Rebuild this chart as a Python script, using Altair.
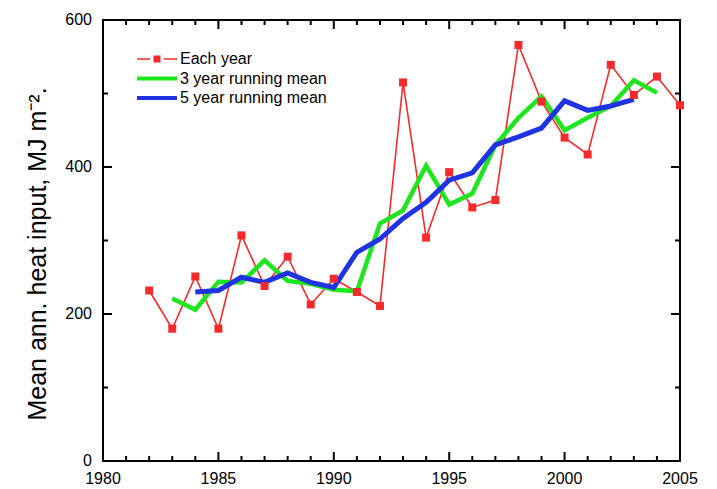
import altair as alt
import pandas as pd

# ---- data ----
years_each = list(range(1982, 2006))
each_year = [232, 180, 251, 180, 307, 238, 278, 213, 248, 230, 211, 515,
             304, 393, 345, 355, 566, 489, 440, 417, 539, 498, 523, 484]

years_3 = list(range(1983, 2005))
mean_3 = [221, 206, 244, 243, 273, 245, 241, 233, 231, 323, 341, 402,
          349, 364, 430, 467, 496, 450, 467, 483, 518, 501]

years_5 = list(range(1984, 2004))
mean_5 = [230, 232, 250, 243, 256, 243, 236, 284, 302, 330, 352, 382,
          392, 430, 441, 453, 490, 477, 483, 492]

series_names = ["Each year", "3 year running mean", "5 year running mean"]
x_labels = [1980, 1985, 1990, 1995, 2000, 2005]
x_minor = [y for y in range(1980, 2006) if y not in x_labels]
y_labels = [0, 200, 400, 600]
y_minor = [100, 300, 500]
y_title = ["Mean ann. heat input, MJ m\u207b\u00b2."]

RED, GREEN, BLUE = "#f52a2a", "#1ee61e", "#1f33e2"
FONT = "Liberation Sans"
W, H = 577, 441
MAJ, MIN = 9, 5

df_each = pd.DataFrame({"year": years_each, "value": each_year})
df_3 = pd.DataFrame({"year": years_3, "value": mean_3})
df_5 = pd.DataFrame({"year": years_5, "value": mean_5})
df_names = pd.DataFrame({"series": series_names})
df_xmaj = pd.DataFrame({"year": x_labels})
df_xmin = pd.DataFrame({"year": x_minor})
df_ymaj = pd.DataFrame({"value": y_labels})
df_ymin = pd.DataFrame({"value": y_minor})
df_title = pd.DataFrame({"t": y_title})

xscale = alt.Scale(domain=[1980, 2005], nice=False, zero=False)
yscale = alt.Scale(domain=[0, 600], nice=False)

xq = alt.X("year:Q", scale=xscale, axis=None)
yq = alt.Y("value:Q", scale=yscale, axis=None)

red_line = alt.Chart(df_each).mark_line(color=RED, strokeWidth=1.6).encode(x=xq, y=yq)
green_line = alt.Chart(df_3).mark_line(color=GREEN, strokeWidth=4.5).encode(x=xq, y=yq)
blue_line = alt.Chart(df_5).mark_line(color=BLUE, strokeWidth=5).encode(x=xq, y=yq)
red_pts = alt.Chart(df_each).mark_square(color=RED, size=64, opacity=1).encode(x=xq, y=yq)


# inward ticks: stroked symbols anchored on the frame
def tick_layer(df, path, length, **enc):
    return alt.Chart(df).mark_point(shape=path, size=(2 * length) ** 2, filled=False,
                                    stroke="black", strokeWidth=2, opacity=1,
                                    strokeCap="butt").encode(**enc)


ticks = [
    tick_layer(df_xmaj, "M0,0L0,-1", MAJ, x=xq, y=alt.value(H)),
    tick_layer(df_xmin, "M0,0L0,-1", MIN, x=xq, y=alt.value(H)),
    tick_layer(df_xmaj, "M0,0L0,1", MAJ, x=xq, y=alt.value(0)),
    tick_layer(df_xmin, "M0,0L0,1", MIN, x=xq, y=alt.value(0)),
    tick_layer(df_ymaj, "M0,0L1,0", MAJ, y=yq, x=alt.value(0)),
    tick_layer(df_ymin, "M0,0L1,0", MIN, y=yq, x=alt.value(0)),
    tick_layer(df_ymaj, "M0,0L-1,0", MAJ, y=yq, x=alt.value(W)),
    tick_layer(df_ymin, "M0,0L-1,0", MIN, y=yq, x=alt.value(W)),
]

# tick labels and axis title as text marks placed through the scales
x_text = alt.Chart(df_xmaj).mark_text(font=FONT, fontSize=16, color="black",
                                      align="center", baseline="top").encode(
    x=xq, y=alt.value(H + 10), text=alt.Text("year:Q", format="d"))
y_text = alt.Chart(df_ymaj).mark_text(font=FONT, fontSize=16, color="black",
                                      align="right", baseline="middle").encode(
    y=yq, x=alt.value(-11), text=alt.Text("value:Q", format="d"))
title_text = alt.Chart(df_title).mark_text(font=FONT, fontSize=25, color="black",
                                           angle=270, align="center",
                                           baseline="bottom").encode(
    x=alt.value(-52), y=alt.value(234), text="t:N")

# legend (native legend, custom symbol paths)
path_each = ("M-3,-0.08H-1.7V0.08H-3Z M-0.3,-0.08H1V0.08H-0.3Z "
             "M-1.35,-0.35H-0.65V0.35H-1.35Z")
path_bar = "M-3,-0.2H1V0.2H-3Z"
leg = alt.Legend(orient="none", legendX=54, legendY=29,
                 labelFont=FONT, labelFontSize=16, labelColor="black", labelOffset=3,
                 symbolSize=400, symbolStrokeWidth=0, rowPadding=1.5, padding=0)
legend_layer = alt.Chart(df_names).mark_point(filled=True, opacity=1, size=400).encode(
    color=alt.Color("series:N", title=None,
                    scale=alt.Scale(domain=series_names, range=[RED, GREEN, BLUE]),
                    legend=leg),
    shape=alt.Shape("series:N", title=None,
                    scale=alt.Scale(domain=series_names,
                                    range=[path_each, path_bar, path_bar]),
                    legend=leg),
).transform_filter("false")

chart = alt.layer(red_line, green_line, blue_line, red_pts, *ticks,
                  x_text, y_text, title_text, legend_layer).properties(
    width=W, height=H,
    autosize=alt.AutoSizeParams(type="none"),
    padding={"left": 95, "top": 12, "right": 20, "bottom": 26},
    background="white",
).configure_view(stroke="black", strokeWidth=2)

chart.save("out.html", embed_options={"renderer": "svg", "actions": False})
